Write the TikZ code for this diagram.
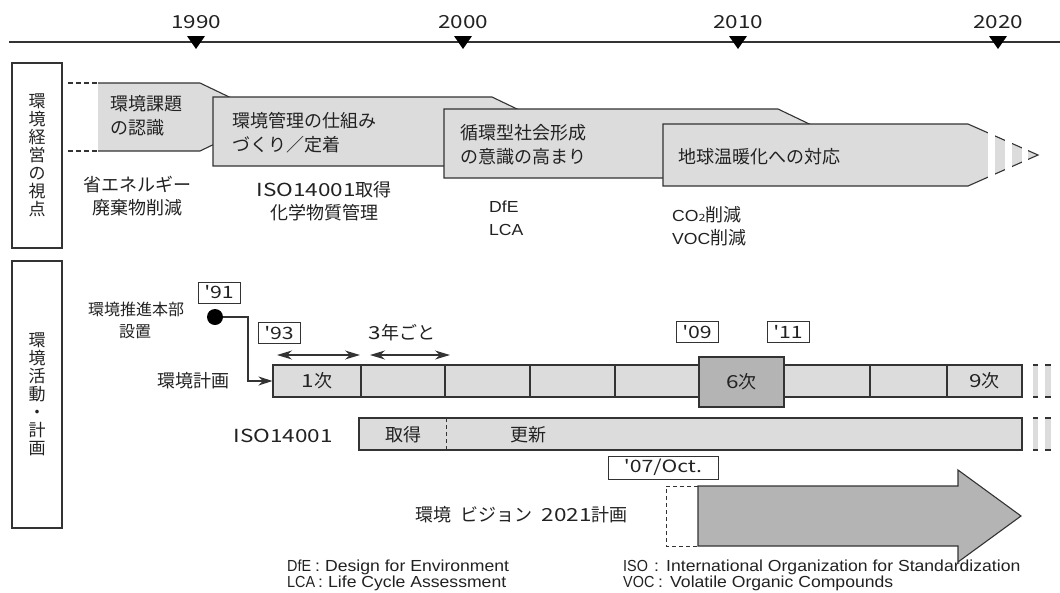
\documentclass[tikz,border=0pt]{standalone}
\usepackage{fontspec}
\setmainfont{Noto Sans CJK JP}
\newfontfamily\jp{Noto Sans CJK JP}
\newfontfamily\jpw[FakeStretch=1.25,Ligatures=TeXOff]{Noto Sans CJK JP}
\newfontfamily\lat[FakeStretch=1.1]{Liberation Sans}
\newfontfamily\latc[FakeStretch=0.9]{Liberation Sans}
\usetikzlibrary{arrows.meta}
\definecolor{lgr}{HTML}{DCDCDC}
\definecolor{dgr}{HTML}{B4B4B4}
\definecolor{lnc}{HTML}{333333}
\definecolor{txc}{HTML}{222222}
\tikzset{
  jt/.style={font=\jp\fontsize{18}{24}\selectfont, text=txc, inner sep=0pt},
  yr/.style={font=\jpw\fontsize{18}{20}\selectfont, text=txc, inner sep=0pt},
  en/.style={font=\lat\fontsize{16}{19}\selectfont, text=txc, inner sep=0pt},
  leg/.style={font=\lat\fontsize{16}{17}\selectfont, text=txc, inner sep=0pt, anchor=base west},
  legab/.style={leg, font=\latc\fontsize{16}{17}\selectfont},
  pent/.style={fill=lgr, draw=lnc, line width=1.1pt},
  vbox/.style={draw=lnc, line width=1.1pt, minimum width=50pt, inner sep=0pt, align=center,
    font=\jp\fontsize{17}{18}\selectfont, text=txc},
  ybox/.style={draw=lnc, line width=0.9pt, minimum width=42pt, minimum height=21pt, inner sep=0pt,
    font=\jpw\fontsize{17}{20}\selectfont, text=txc, fill=white},
  cell/.style={draw=lnc, fill=lgr, line width=1.1pt, minimum height=32pt, inner sep=0pt,
    font=\jp\fontsize{18}{20}\selectfont, text=txc},
  cellsix/.style={cell, fill=dgr, line width=2.4pt, minimum height=50pt},
  conn/.style={draw=lnc, line width=1.2pt},
  tip/.style={-{Stealth[length=14pt,width=9pt]}},
  twotip/.style={{Stealth[length=15pt,width=9pt]}-{Stealth[length=15pt,width=9pt]}},
  brk/.style={draw=lnc, line width=1.1pt},
}
\begin{document}
\begin{tikzpicture}[x=1pt,y=-1pt]
\useasboundingbox (0,0) rectangle (1060,592);
\fill[white] (0,0) rectangle (1060,592);

% ---- timeline
\coordinate (tlS) at (9,42);
\coordinate (tlE) at (1060,42);
\draw[lnc, line width=1.3pt] (tlS) -- (tlE);
\foreach \xx/\yy in {196/1990,463/2000,738/2010,998/2020}{
  \fill[black] (\xx-9,36) -- (\xx+9,36) -- (\xx,49) -- cycle;
  \node[yr] (y\yy) at (\xx,22) {\yy};
}

% ---- left category boxes
\node[vbox, minimum height=185pt] (vb1) at (37,155.5) {環\\境\\経\\営\\の\\視\\点};
\node[vbox, minimum height=267pt] (vb2) at (37,394.5) {環\\境\\活\\動\\・\\計\\画};

% ---- pentagon 1
\fill[lgr] (98,83) -- (200,83) -- (271,117) -- (200,151) -- (98,151) -- cycle;
\draw[lnc, line width=1.1pt] (98,83) -- (200,83) -- (271,117) -- (200,151) -- (98,151);
\draw[lnc, line width=1.1pt, dash pattern=on 5pt off 3pt] (68,83) -- (98,83) (68,151) -- (98,151);
\node[jt, align=left, anchor=west] (t1) at (110,116) {環境課題\\の認識};

% ---- pentagon 2
\filldraw[pent] (213,97) -- (492,97) -- (564,131.5) -- (492,166) -- (213,166) -- cycle;
\node[jt, align=left, anchor=west] (t2) at (232,133) {環境管理の仕組み\\づくり／定着};

% ---- pentagon 3
\filldraw[pent] (444,109) -- (778,109) -- (850,143.5) -- (778,178) -- (444,178) -- cycle;
\node[jt, align=left, anchor=west] (t3) at (460,145) {循環型社会形成\\の意識の高まり};

% ---- pentagon 4 with breaks
\filldraw[pent] (663,124) -- (968,124) -- (1038,155) -- (968,186) -- (663,186) -- cycle;
\fill[white] (988,118) rectangle (995,192);
\fill[white] (1005,118) rectangle (1012,192);
\fill[white] (1022,118) rectangle (1028,192);
\node[jt, anchor=west] (t4) at (678,157) {地球温暖化への対応};

% ---- notes under pentagons
\node[jt] (a1) at (137,185) {省エネルギー};
\node[jt] (a2) at (137,208) {廃棄物削減};
\node[jt] (a3) at (324,190) {{\jpw ISO14001}取得};
\node[jt] (a4) at (324,213) {化学物質管理};
\node[en, anchor=west] (a5) at (489,207) {DfE};
\node[en, anchor=west] (a6) at (489,230) {LCA};
\node[jt, anchor=west] (a7) at (672,215) {{\lat\fontsize{16}{19}\selectfont CO}{\jpw\fontsize{10}{10}\selectfont 2}削減};
\node[jt, anchor=west] (a8) at (672,238) {{\lat\fontsize{16}{19}\selectfont VOC}削減};

% ---- environment plan
\node[jt, font=\jp\fontsize{16}{20}\selectfont] (hq1) at (136,309) {環境推進本部};
\node[jt, font=\jp\fontsize{16}{20}\selectfont] (hq2) at (135,332) {設置};
\node[ybox] (l91) at (219,292.5) {'91};
\node[circle, fill=black, minimum size=16pt, inner sep=0pt] (dot) at (215,317) {};
\node[ybox] (l93) at (279,333) {'93};
\node[ybox] (l09) at (697,332) {'09};
\node[ybox] (l11) at (788,332) {'11};
\node[jt] (t3y) at (402,333) {{\jpw 3}年ごと};
\coordinate (da1) at (277,355);
\coordinate (db1) at (360,355);
\coordinate (da2) at (370,355);
\coordinate (db2) at (450,355);
\draw[conn, twotip] (da1) -- (db1);
\draw[conn, twotip] (da2) -- (db2);
\node[jt, anchor=east] (tplan) at (230,381) {環境計画};

\node[cell, minimum width=88pt] (p1) at (317,381) {{\jpw 1}次};
\node[cell, minimum width=84pt] (p2) at (403,381) {};
\node[cell, minimum width=85pt] (p3) at (487.5,381) {};
\node[cell, minimum width=85pt] (p4) at (572.5,381) {};
\node[cell, minimum width=84pt] (p5) at (657,381) {};
\node[cell, minimum width=86pt] (p7) at (827,381) {};
\node[cell, minimum width=77pt] (p8) at (908.5,381) {};
\node[cell, minimum width=75pt] (p9) at (984.5,381) {{\jpw 9}次};
\node[cellsix, minimum width=85pt] (p6) at (741.5,382) {{\jpw 6}次};
\foreach \a/\b in {1033/1038,1045/1051}{
  \fill[lgr] (\a,365) rectangle (\b,397);
  \draw[brk] (\a,365) -- (\b,365) (\a,397) -- (\b,397);
}
\draw[conn, tip] (dot) -- (248,317) |- (p1.west);

% ---- ISO14001 row
\node[jt] (tiso) at (283,436) {{\jpw ISO14001}};
\node[cell, minimum width=663pt] (isorow) at (690.5,434) {};
\draw[lnc, line width=1pt, dash pattern=on 4pt off 3pt] (446,418) -- (446,450);
\node[jt] (iso1) at (403,435) {取得};
\node[jt] (iso2) at (528,435) {更新};
\foreach \a/\b in {1033/1038,1045/1051}{
  \fill[lgr] (\a,418) rectangle (\b,450);
  \draw[brk] (\a,418) -- (\b,418) (\a,450) -- (\b,450);
}

% ---- vision 2021
\node[ybox, minimum width=110pt, minimum height=23pt] (l07) at (663,467.5) {'07/Oct.};
\draw[lnc, line width=1pt, dash pattern=on 4pt off 3pt] (698,486) -- (666,486) -- (666,546) -- (698,546);
\filldraw[fill=dgr, draw=lnc, line width=1.1pt] (698,486) -- (958,486) -- (958,470) -- (1021,516) -- (958,562) -- (958,546) -- (698,546) -- cycle;
\node[jt, anchor=east] (tvis) at (628,515) {環境\hspace{9pt}ビジョン\hspace{9pt}{\jpw 2021}計画};

% ---- legend
\node[legab] (k1) at (287,571) {DfE};
\node[leg] (k1b) at (315,571) {:};
\node[leg] (k1c) at (325,571) {Design for Environment};
\node[legab] (k2) at (287,587) {LCA};
\node[leg] (k2b) at (318,587) {:};
\node[leg] (k2c) at (328,587) {Life Cycle Assessment};
\node[legab] (k3) at (623,571) {ISO};
\node[leg] (k3b) at (654,571) {:};
\node[leg] (k3c) at (666,571) {International Organization for Standardization};
\node[legab] (k4) at (623,587) {VOC};
\node[leg] (k4b) at (658,587) {:};
\node[leg] (k4c) at (670,587) {Volatile Organic Compounds};
\end{tikzpicture}
\end{document}
